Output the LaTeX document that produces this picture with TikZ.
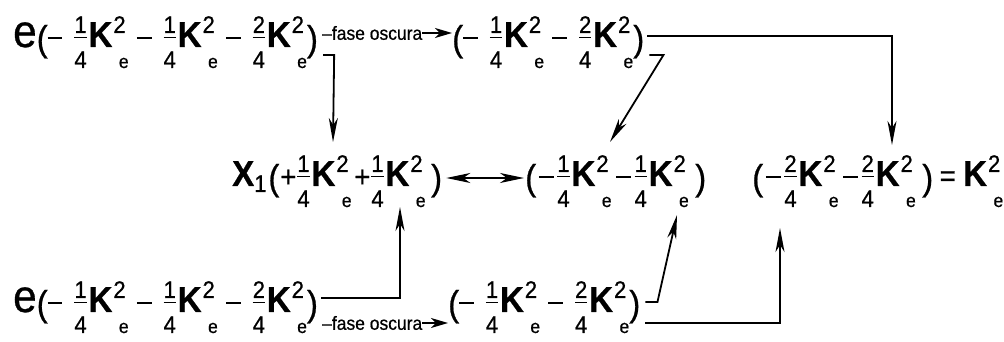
\documentclass[tikz,border=0pt]{standalone}
\usepackage{fontspec}
\setmainfont{Liberation Sans}[FakeBold=0.7]
\usetikzlibrary{arrows.meta,positioning,calc}
\newcommand{\dg}{\fontsize{24}{24}\selectfont}
\newcommand{\bg}{\fontsize{36}{36}\selectfont}
\newcommand{\fs}{\fontsize{19}{19}\selectfont}
\newcommand{\fr}[2]{\kern1pt\rlap{\raisebox{14pt}{\dg #1}}\rlap{\raisebox{8.5pt}{\rule{13.3pt}{1.5pt}}}\raisebox{-21pt}{\dg #2}\kern2pt}
\newcommand{\Ke}{{\bg\bfseries K}\kern1pt\rlap{\raisebox{14pt}{\dg 2}}\kern6pt\raisebox{-21pt}{\fontsize{19}{19}\selectfont e}}
\newcommand{\mn}{\raisebox{8pt}{\rule{16pt}{1.8pt}}}
\newcommand{\pl}{\raisebox{-1pt}{\fontsize{30}{30}\selectfont +}}
\newcommand{\lp}{\raisebox{-4pt}{\bg (}}
\newcommand{\rp}{\raisebox{-4pt}{\bg )}}
\newcommand{\gp}{\hspace{12pt}}

\begin{document}
\begin{tikzpicture}[x=1pt,y=1pt,
  expr/.style={anchor=base west, inner sep=0pt, xscale=0.92, font=\dg},
  fase/.style={anchor=west, inner sep=0pt, xscale=0.92, font=\fs},
  link/.style={line width=1.8pt, -{Stealth[length=24pt,width=9pt,inset=7pt]}},
  faselink/.style={line width=1.6pt, -{Stealth[length=17pt,width=10pt,inset=5pt]}},
  both/.style={line width=1.8pt, {Stealth[length=24pt,width=10pt,inset=7pt]}-{Stealth[length=24pt,width=10pt,inset=7pt]}}]
  \useasboundingbox (0,0) rectangle (1004,342);

  %% Top row
  \node[expr] (e1) at (13,295)
    {{\fontsize{46}{46}\selectfont e}\lp\mn\gp\fr14\Ke\kern9pt\mn\gp\fr14\Ke\kern9pt\mn\gp\fr24\Ke\rp};
  \node[fase] (fase1) at (322,309) {--fase oscura};
  \node[expr] (e2) at (452,295)
    {\lp\mn\gp\fr14\Ke\kern9pt\mn\gp\fr24\Ke\rp};

  %% Middle row
  \node[expr] (x1) at (232,156)
    {{\bg\bfseries X}\raisebox{-6pt}{\dg 1}\kern2pt\lp\kern1pt\pl\fr14\Ke\kern3pt\pl\fr14\Ke\kern6pt\rp};
  \node[expr] (m2) at (525,156)
    {\lp\kern3pt\mn\kern3pt\fr14\Ke\kern5pt\mn\kern3pt\fr14\Ke\kern7pt\rp};
  \node[expr] (k2) at (752,156)
    {\lp\kern3pt\mn\kern3pt\fr24\Ke\kern5pt\mn\kern3pt\fr24\Ke\kern7pt\rp\kern7pt{\fontsize{30}{30}\selectfont =}\kern8pt\Ke};

  %% Bottom row
  \node[expr] (e3) at (13,30)
    {{\fontsize{46}{46}\selectfont e}\lp\mn\gp\fr14\Ke\kern9pt\mn\gp\fr14\Ke\kern9pt\mn\gp\fr24\Ke\rp};
  \node[fase] (fase2) at (322,19) {--fase oscura};
  \node[expr] (e4) at (448,30)
    {\lp\mn\gp\fr14\Ke\kern9pt\mn\gp\fr24\Ke\rp};

  %% Arrow tips
  \coordinate (t1) at (333,200);
  \coordinate (t2) at (610,200);
  \coordinate (t3) at (892,197);
  \coordinate (t4) at (400,135);
  \coordinate (t5) at (677,127);
  \coordinate (t6) at (780,114);

  %% Connectors
  \draw[faselink] (fase1.east) -- (fase1.east -| e2.west);
  \draw[faselink] (fase2.east) -- (fase2.east -| e4.west);
  \draw[link] ([shift={(5,-8)}]e1.base east) -- ++(11,0) -- (t1);
  \draw[link] ([shift={(3,11)}]e2.base east) -| (t3);
  \draw[link] ([shift={(5,-8)}]e2.base east) -- ++(14,0) -- (t2);
  \draw[both] ([xshift=4pt]x1.east |- 0,164) -- ([xshift=-1pt]m2.west |- 0,164);
  \draw[link] ([shift={(3,14)}]e3.base east) -| (t4);
  \draw[link] ([shift={(5,10)}]e4.base east) -- ++(12,0) -- (t5);
  \draw[link] ([shift={(5,-11)}]e4.base east) -| (t6);
\end{tikzpicture}
\end{document}
